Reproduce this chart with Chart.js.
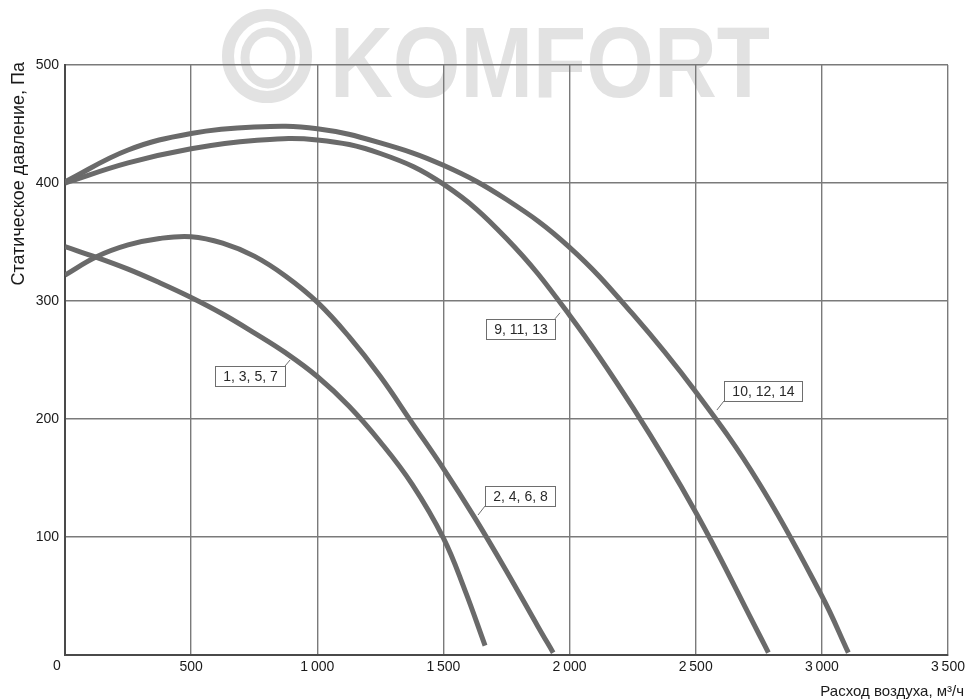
<!DOCTYPE html>
<html>
<head>
<meta charset="utf-8">
<script src="https://cdn.jsdelivr.net/npm/chart.js@4/dist/chart.umd.min.js"></script>
<style>
html,body{margin:0;padding:0;background:#fff;}
#wrap{width:969px;height:700px;}
</style>
</head>
<body>
<div id="wrap"><canvas id="c" width="969" height="700"></canvas></div>
<script>
// ---- data ----
const xTicks = [0, 500, 1000, 1500, 2000, 2500, 3000, 3500];
const yTicks = [0, 100, 200, 300, 400, 500];

const flowA  = [0, 125, 250, 375, 500, 625, 750, 875, 1000, 1125, 1250, 1375, 1500, 1585, 1665];
const pressA = [346, 337, 327, 315.5, 303, 289, 273, 256, 236, 211, 180.5, 145, 99, 55, 8];

const flowB  = [0, 125, 250, 375, 500, 625, 750, 875, 1000, 1125, 1250, 1375, 1500, 1625, 1750, 1875, 1935];
const pressB = [322, 337.5, 347.5, 353, 354.5, 349, 338, 321, 299, 270, 236, 197, 158, 116, 71, 24, 2];

const flowC  = [0, 250, 500, 750, 1000, 1250, 1500, 1750, 2000, 2250, 2500, 2750, 2788];
const pressC = [400, 417, 429, 436, 436.5, 425, 399, 353, 288, 210, 121, 18, 2];

const flowD  = [0, 250, 500, 750, 1000, 1250, 1500, 1750, 2000, 2250, 2500, 2750, 3000, 3105];
const pressD = [401, 428, 442, 447.5, 446, 434, 415, 386, 345.5, 289, 223, 146, 50, 2];

const seriesNames = ['1, 3, 5, 7', '2, 4, 6, 8', '9, 11, 13', '10, 12, 14'];
// callout anchor points on each curve (data units)
const calloutFlow  = [892, 1637, 1962, 2584];
const calloutPress = [250, 118.6, 290, 207.6];
const calloutDir   = ['dl', 'ur', 'dl', 'ur'];

const xTitle = 'Расход воздуха, м³/ч';
const yTitle = 'Статическое давление, Па';
const watermark = 'KOMFORT';

// ---- build ----
const toPts = (xs, ys) => xs.map((x, i) => ({x: x, y: ys[i]}));
const curves = [toPts(flowA, pressA), toPts(flowB, pressB), toPts(flowC, pressC), toPts(flowD, pressD)];

const FONT = '"Liberation Sans", Arial, Helvetica, sans-serif';
const fmt = v => {
  if (v >= 1000) { const s = String(v); return s.slice(0, s.length - 3) + '\u2009' + s.slice(-3); }
  return String(v);
};

const decor = {
  id: 'decor',
  beforeDraw(chart) {
    const ctx = chart.ctx;
    ctx.save();
    ctx.fillStyle = '#ffffff';
    ctx.fillRect(0, 0, chart.width, chart.height);
    const col = '#e2e2e2';
    ctx.strokeStyle = col;
    ctx.lineWidth = 12;
    ctx.beginPath(); ctx.ellipse(267, 56, 39, 41, 0, 0, Math.PI * 2); ctx.stroke();
    ctx.lineWidth = 9;
    ctx.beginPath(); ctx.ellipse(268, 58, 23, 26, 0, 0, Math.PI * 2); ctx.stroke();
    ctx.fillStyle = col;
    ctx.font = 'bold 100px ' + FONT;
    ctx.textBaseline = 'alphabetic';
    ctx.textAlign = 'left';
    const w = ctx.measureText(watermark).width;
    ctx.translate(330, 97);
    ctx.scale(440 / w, 1);
    ctx.fillText(watermark, 0, 0);
    ctx.restore();
  },
  afterDraw(chart) {
    const ctx = chart.ctx;
    const xs = chart.scales.x, ys = chart.scales.y;
    ctx.save();
    ctx.fillStyle = '#1a1a1a';
    ctx.font = '14px ' + FONT;
    ctx.textAlign = 'center';
    ctx.textBaseline = 'middle';
    ctx.fillText('0', 57, 666);
    ctx.font = '15px ' + FONT;
    ctx.textAlign = 'right';
    ctx.textBaseline = 'alphabetic';
    ctx.fillText(xTitle, 964, 696);
    ctx.save();
    ctx.translate(24, 62);
    ctx.rotate(-Math.PI / 2);
    ctx.font = '18px ' + FONT;
    ctx.textAlign = 'right';
    ctx.textBaseline = 'alphabetic';
    ctx.fillText(yTitle, 0, 0);
    ctx.restore();
    ctx.font = '14px ' + FONT;
    for (let i = 0; i < seriesNames.length; i++) {
      const ax = xs.getPixelForValue(calloutFlow[i]);
      const ay = ys.getPixelForValue(calloutPress[i]);
      const tw = ctx.measureText(seriesNames[i]).width;
      const bw = Math.round(tw + 16), bh = 20;
      let cx, cy, bx, by;
      if (calloutDir[i] === 'dl') {
        cx = ax - 5; cy = ay + 6; bx = cx - bw; by = cy;
      } else {
        cx = ax + 7; cy = ay - 9; bx = cx; by = cy - bh;
      }
      ctx.strokeStyle = '#6e6e6e';
      ctx.lineWidth = 1;
      ctx.beginPath(); ctx.moveTo(ax, ay); ctx.lineTo(cx, cy); ctx.stroke();
      ctx.fillStyle = '#ffffff';
      ctx.fillRect(Math.round(bx) + 0.5, Math.round(by) + 0.5, bw, bh);
      ctx.strokeRect(Math.round(bx) + 0.5, Math.round(by) + 0.5, bw, bh);
      ctx.fillStyle = '#2a2a2a';
      ctx.textAlign = 'center';
      ctx.textBaseline = 'middle';
      ctx.fillText(seriesNames[i], Math.round(bx) + 0.5 + bw / 2, Math.round(by) + 0.5 + bh / 2 + 1);
    }
    ctx.restore();
  }
};

new Chart(document.getElementById('c'), {
  type: 'line',
  data: {
    datasets: curves.map((pts, i) => ({
      label: seriesNames[i],
      data: pts,
      borderColor: '#6a6a6a',
      borderWidth: 5,
      pointRadius: 0,
      fill: false,
      tension: 0.4,
      borderCapStyle: 'butt'
    }))
  },
  options: {
    responsive: false,
    animation: false,
    layout: { padding: { top: 65, right: 21, left: 0, bottom: 0 } },
    plugins: { legend: { display: false }, tooltip: { enabled: false } },
    scales: {
      x: {
        type: 'linear', min: 0, max: 3500,
        afterBuildTicks: s => { s.ticks = xTicks.map(v => ({value: v})); },
        afterFit: s => { s.height = 45; },
        grid: { color: '#7a7a7a', lineWidth: 1.4, drawTicks: false },
        border: { display: true, color: '#4a4a4a', width: 2 },
        ticks: {
          padding: 4, maxRotation: 0, autoSkip: false,
          color: '#1a1a1a', font: { family: FONT, size: 14 },
          callback: v => v === 0 ? '' : fmt(v)
        }
      },
      y: {
        type: 'linear', min: 0, max: 500,
        afterBuildTicks: s => { s.ticks = yTicks.map(v => ({value: v})); },
        afterFit: s => { s.width = 65; },
        grid: { color: '#7a7a7a', lineWidth: 1.4, drawTicks: false },
        border: { display: true, color: '#4a4a4a', width: 2 },
        ticks: {
          padding: 6, autoSkip: false,
          color: '#1a1a1a', font: { family: FONT, size: 14 },
          callback: v => v === 0 ? '' : String(v)
        }
      }
    }
  },
  plugins: [decor]
});
</script>
</body>
</html>
